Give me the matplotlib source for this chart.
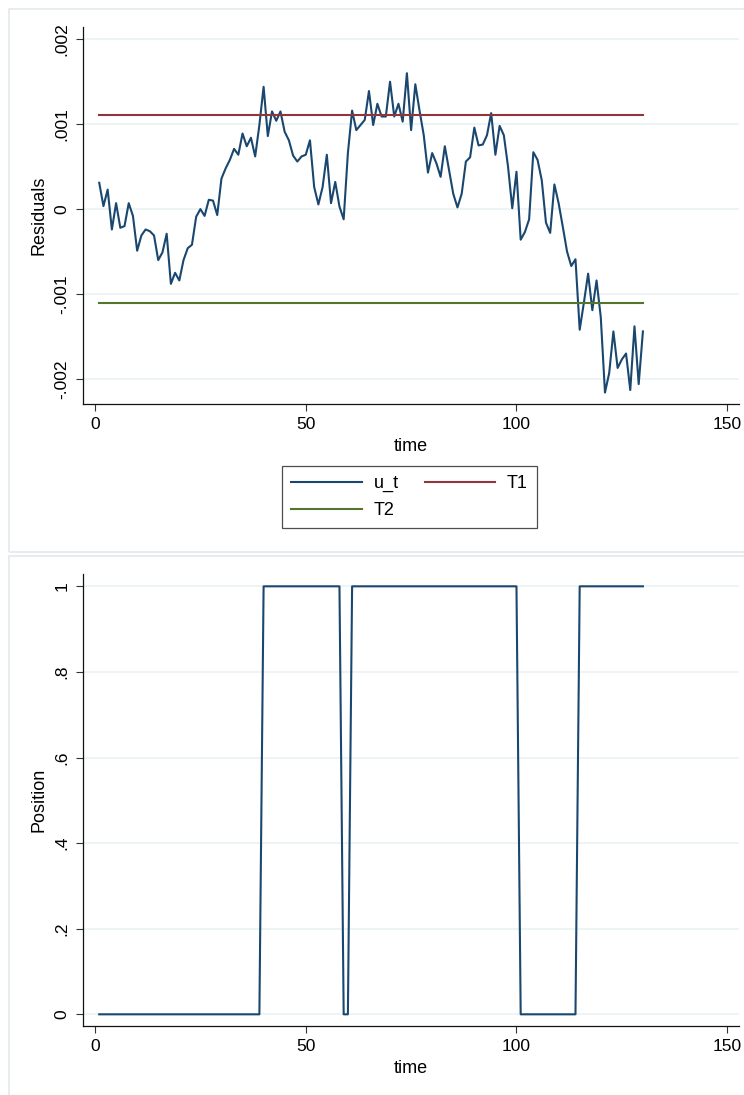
import matplotlib
matplotlib.use("Agg")
import matplotlib.pyplot as plt
from matplotlib.patches import Rectangle
from matplotlib.ticker import FixedLocator, FixedFormatter

plt.rcParams['font.family'] = ['Liberation Sans', 'DejaVu Sans']

# ---------------- data ----------------
time = list(range(1, 131))

u_t = [
    0.00031, 0.000035, 0.00023, -0.00024, 0.00007, -0.00022, -0.00020, 0.00007, -0.00008, -0.00049,
    -0.00031, -0.00024, -0.00026, -0.00031, -0.00060, -0.00051, -0.00029, -0.00088, -0.00075, -0.00084,
    -0.00060, -0.00046, -0.00042, -0.00009, 0.00000, -0.00008, 0.00011, 0.00010, -0.00007, 0.00036,
    0.00048, 0.00058, 0.00071, 0.00064, 0.00089, 0.00074, 0.00084, 0.00062, 0.00099, 0.00144,
    0.00086, 0.00115, 0.00104, 0.00115, 0.00091, 0.00081, 0.00063, 0.00056, 0.00062, 0.00064,
    0.00081, 0.00026, 0.000055, 0.00026, 0.00064, 0.00007, 0.00032, 0.00003, -0.00012, 0.00066,
    0.00116, 0.00093, 0.00099, 0.00105, 0.00139, 0.00099, 0.00124, 0.00109, 0.00109, 0.00150,
    0.00109, 0.00124, 0.00103, 0.00160, 0.00093, 0.00147, 0.00116, 0.00087, 0.00043, 0.00066,
    0.00054, 0.00038, 0.00074, 0.00046, 0.00018, 0.00002, 0.00018, 0.00056, 0.00061, 0.00096,
    0.00075, 0.00076, 0.00087, 0.00113, 0.00064, 0.00098, 0.00087, 0.00050, 0.00001, 0.00044,
    -0.00036, -0.00027, -0.00012, 0.00067, 0.00058, 0.00034, -0.00016, -0.00028, 0.00029, 0.00007,
    -0.00021, -0.00050, -0.00067, -0.00059, -0.00142, -0.00110, -0.00076, -0.00119, -0.00084, -0.00127,
    -0.00216, -0.00193, -0.00144, -0.00187, -0.00177, -0.00170, -0.00213, -0.00138, -0.00206, -0.00144,
]

T1_value = 0.00111
T2_value = -0.00111
T1 = [T1_value] * len(time)
T2 = [T2_value] * len(time)

position = [
    0, 0, 0, 0, 0, 0, 0, 0, 0, 0,
    0, 0, 0, 0, 0, 0, 0, 0, 0, 0,
    0, 0, 0, 0, 0, 0, 0, 0, 0, 0,
    0, 0, 0, 0, 0, 0, 0, 0, 0, 1,
    1, 1, 1, 1, 1, 1, 1, 1, 1, 1,
    1, 1, 1, 1, 1, 1, 1, 1, 0, 0,
    1, 1, 1, 1, 1, 1, 1, 1, 1, 1,
    1, 1, 1, 1, 1, 1, 1, 1, 1, 1,
    1, 1, 1, 1, 1, 1, 1, 1, 1, 1,
    1, 1, 1, 1, 1, 1, 1, 1, 1, 1,
    0, 0, 0, 0, 0, 0, 0, 0, 0, 0,
    0, 0, 0, 0, 1, 1, 1, 1, 1, 1,
    1, 1, 1, 1, 1, 1, 1, 1, 1, 1,
]

x_ticks = [0, 50, 100, 150]
x_ticklabels = ["0", "50", "100", "150"]
res_ticks = [-0.002, -0.001, 0, 0.001, 0.002]
res_ticklabels = ["-.002", "-.001", "0", ".001", ".002"]
pos_ticks = [0, 0.2, 0.4, 0.6, 0.8, 1]
pos_ticklabels = ["0", ".2", ".4", ".6", ".8", "1"]

# ---------------- style ----------------
C_U = "#1A476F"
C_T1 = "#90353B"
C_T2 = "#55752F"
GRID = "#EAF2F3"
BORDER = "#E3EAEC"
FS = 13
TFS = 12.5

W, H = 744, 1095
fig = plt.figure(figsize=(W / 100, H / 100), dpi=100)

# panel borders
fig.patches.append(Rectangle((9 / W, 1 - 552 / H), 1.0, (552 - 9) / H,
                             transform=fig.transFigure, fill=False,
                             edgecolor=BORDER, linewidth=1.2, zorder=0))
fig.patches.append(Rectangle((9 / W, -0.05), 1.0, 0.05 + 1 - 556 / H,
                             transform=fig.transFigure, fill=False,
                             edgecolor=BORDER, linewidth=1.2, zorder=0))

left = 83.3 / W
width = (739 - 83.3) / W
ax1 = fig.add_axes([left, 1 - 404.3 / H, width, (404.3 - 27) / H])
ax2 = fig.add_axes([left, 1 - 1026 / H, width, (1026 - 574) / H])


def style(ax):
    for s in ("top", "right"):
        ax.spines[s].set_visible(False)
    for s in ("left", "bottom"):
        ax.spines[s].set_linewidth(0.9)
        ax.spines[s].set_color("#111111")
    ax.tick_params(axis="both", direction="out", length=5, width=0.8,
                   labelsize=TFS, color="#333333")
    ax.tick_params(axis="x", pad=4.5)
    ax.tick_params(axis="y", pad=5, labelrotation=90)
    for lab in ax.get_yticklabels():
        lab.set_va("center")
    ax.grid(axis="y", color=GRID, linewidth=1.2)
    ax.grid(axis="x", visible=False)
    ax.set_axisbelow(True)
    ax.set_xlim(-2.78, 152.8)
    ax.xaxis.set_major_locator(FixedLocator(x_ticks))
    ax.xaxis.set_major_formatter(FixedFormatter(x_ticklabels))
    ax.set_xlabel("time", fontsize=FS, labelpad=4)


# top panel
l_u, = ax1.plot(time, u_t, color=C_U, linewidth=1.5, label="u_t")
l_t1, = ax1.plot(time, T1, color=C_T1, linewidth=1.5, label="T1")
l_t2, = ax1.plot(time, T2, color=C_T2, linewidth=1.5, label="T2")
ax1.set_ylim(-0.002298, 0.002144)
ax1.yaxis.set_major_locator(FixedLocator(res_ticks))
ax1.yaxis.set_major_formatter(FixedFormatter(res_ticklabels))
ax1.set_ylabel("Residuals", fontsize=FS, labelpad=5)
style(ax1)

# bottom panel
ax2.plot(time, position, color=C_U, linewidth=1.5)
ax2.set_ylim(-0.0273, 1.0288)
ax2.yaxis.set_major_locator(FixedLocator(pos_ticks))
ax2.yaxis.set_major_formatter(FixedFormatter(pos_ticklabels))
ax2.set_ylabel("Position", fontsize=FS, labelpad=5)
style(ax2)

leg = fig.legend([l_u, l_t2, l_t1], ["u_t", "T2", "T1"], ncol=2,
                 loc="upper left", bbox_to_anchor=(282.3 / W, 1 - 466 / H),
                 bbox_transform=fig.transFigure, borderaxespad=0,
                 fontsize=FS, frameon=True, fancybox=False,
                 handlelength=3.9, handletextpad=0.65, columnspacing=1.45,
                 labelspacing=0.55, borderpad=0.5)
leg.get_frame().set_edgecolor("#222222")
leg.get_frame().set_linewidth(0.9)

fig.savefig("out.png", dpi=100)
